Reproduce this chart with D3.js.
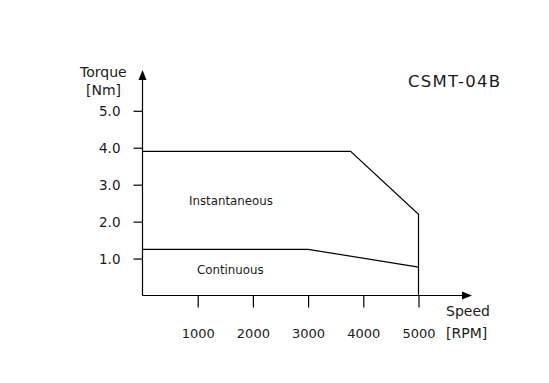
<!DOCTYPE html>
<html>
<head>
<meta charset="utf-8">
<script src="https://cdn.jsdelivr.net/npm/d3@7"></script>
<style>
  html, body { margin: 0; padding: 0; background: #fff; }
  svg { display: block; }
  text { font-family: "DejaVu Sans", sans-serif; fill: #1a1a1a; }
</style>
</head>
<body>
<svg id="chart" width="549" height="383"></svg>
<script>
// ---- data ----
const speedTicks = [1000, 2000, 3000, 4000, 5000];
const torqueTicks = [1, 2, 3, 4, 5];
const torqueTickLabels = ["1.0", "2.0", "3.0", "4.0", "5.0"];
const instSpeed = [0, 3770, 5000, 5000];
const instTorque = [3.9, 3.9, 2.2, 0];
const contSpeed = [0, 3000, 5000];
const contTorque = [1.25, 1.25, 0.77];
const title = "CSMT-04B";

const svg = d3.select("#chart");
const x = d3.scaleLinear().domain([0, 5000]).range([142.5, 418.5]);
const y = d3.scaleLinear().domain([0, 5]).range([295.5, 110.8]);

// axes lines
const axisG = svg.append("g").attr("stroke", "#000").attr("stroke-width", 1.2);
axisG.append("line").attr("x1", x(0)).attr("x2", 464).attr("y1", y(0)).attr("y2", y(0));
axisG.append("line").attr("x1", x(0)).attr("x2", x(0)).attr("y1", y(0)).attr("y2", 78);
// arrowheads
svg.append("path").attr("d", `M${x(0)},70 L${x(0)-4},80 L${x(0)+4},80 Z`).attr("fill", "#000");
svg.append("path").attr("d", `M472,${y(0)} L462,${y(0)-4} L462,${y(0)+4} Z`).attr("fill", "#000");

// x axis ticks via d3 axis
const xAxis = d3.axisBottom(x).tickValues(speedTicks).tickSize(12).tickFormat(d => d);
const gx = svg.append("g").attr("transform", `translate(0,${y(0)})`).call(xAxis);
gx.select(".domain").remove();
gx.selectAll(".tick line").attr("stroke", "#000").attr("stroke-width", 1.2);
gx.selectAll(".tick text").attr("y", 38).attr("dy", "0.32em")
  .style("font-family", "DejaVu Sans").style("font-size", "13px").attr("fill", "#1a1a1a");

// y axis ticks
const yAxis = d3.axisLeft(y).tickValues(torqueTicks).tickSize(9)
  .tickFormat((d, i) => torqueTickLabels[i]);
const gy = svg.append("g").attr("transform", `translate(${x(0)},0)`).call(yAxis);
gy.select(".domain").remove();
gy.selectAll(".tick line").attr("stroke", "#000").attr("stroke-width", 1.2);
gy.selectAll(".tick text").attr("x", -22).attr("dy", "0.38em")
  .style("font-family", "DejaVu Sans").style("font-size", "13.5px").attr("fill", "#1a1a1a");

// curves
const line = d3.line().x(d => x(d[0])).y(d => y(d[1]));
svg.append("path").datum(instSpeed.map((s, i) => [s, instTorque[i]]))
  .attr("d", line).attr("fill", "none").attr("stroke", "#000").attr("stroke-width", 1.2);
svg.append("path").datum(contSpeed.map((s, i) => [s, contTorque[i]]))
  .attr("d", line).attr("fill", "none").attr("stroke", "#000").attr("stroke-width", 1.2);

// labels
svg.append("text").attr("x", 189).attr("y", 205).style("font-size", "11.8px").text("Instantaneous");
svg.append("text").attr("x", 197).attr("y", 274).style("font-size", "11.8px").text("Continuous");
svg.append("text").attr("x", 80).attr("y", 77).style("font-size", "14px").text("Torque");
svg.append("text").attr("x", 86).attr("y", 95).style("font-size", "14px").text("[Nm]");
svg.append("text").attr("x", 446).attr("y", 316).style("font-size", "14px").text("Speed");
svg.append("text").attr("x", 446).attr("y", 338).style("font-size", "14px").text("[RPM]");
svg.append("text").attr("x", 408).attr("y", 87).style("font-size", "16.5px")
  .attr("textLength", 92).attr("lengthAdjust", "spacing").text(title);
</script>
</body>
</html>
